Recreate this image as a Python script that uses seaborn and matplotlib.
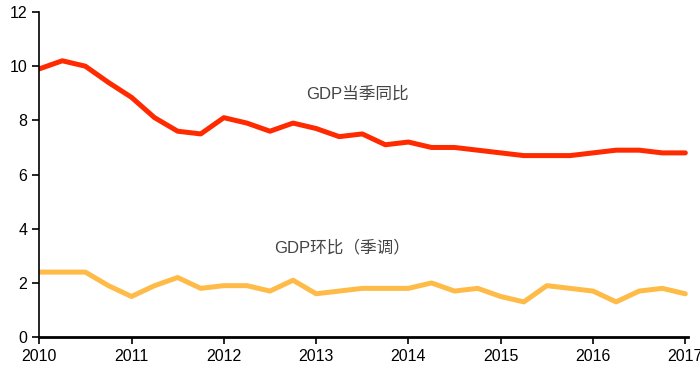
import numpy as np
import pandas as pd
import seaborn as sns
import matplotlib.pyplot as plt

# quarterly data, 2010Q1 .. 2017Q1
gdp_yoy = [9.9, 10.2, 10.0, 9.4, 8.85, 8.1, 7.6, 7.5,
           8.1, 7.9, 7.6, 7.9, 7.7, 7.4, 7.5, 7.1,
           7.2, 7.0, 7.0, 6.9, 6.8, 6.7, 6.7, 6.7,
           6.8, 6.9, 6.9, 6.8, 6.8]
gdp_qoq = [2.4, 2.4, 2.4, 1.9, 1.5, 1.9, 2.2, 1.8,
           1.9, 1.9, 1.7, 2.1, 1.6, 1.7, 1.8, 1.8,
           1.8, 2.0, 1.7, 1.8, 1.5, 1.3, 1.9, 1.8,
           1.7, 1.3, 1.7, 1.8, 1.6]
years = [2010, 2011, 2012, 2013, 2014, 2015, 2016, 2017]
yticks = [0, 2, 4, 6, 8, 10, 12]

quarter_pos = years[0] + np.arange(len(gdp_yoy)) / 4
df = pd.DataFrame({'t': quarter_pos, 'yoy': gdp_yoy, 'qoq': gdp_qoq})

sns.set_theme(style='ticks')
plt.rcParams['font.family'] = ['Liberation Sans', 'Noto Sans CJK SC', 'DejaVu Sans']

fig = plt.figure(figsize=(7, 3.75), dpi=100)
ax = fig.add_axes([0.056, 0.101, 0.927, 0.867])

sns.lineplot(data=df, x='t', y='yoy', ax=ax, color='#ff2a00', linewidth=3.6)
sns.lineplot(data=df, x='t', y='qoq', ax=ax, color='#ffbb48', linewidth=3.6)

ax.set_xlim(2010, 2017.03)
ax.set_ylim(0, 12)
ax.set_xticks(years)
ax.set_xticklabels([str(y) for y in years])
ax.set_yticks(yticks)
ax.set_xlabel('')
ax.set_ylabel('')
ax.tick_params(axis='both', labelsize=11.5, length=5, width=1.2, color='black', labelcolor='black')
sns.despine(ax=ax)
for s in ['left', 'bottom']:
    ax.spines[s].set_color('black')
    ax.spines[s].set_linewidth(1.2)
ax.spines['bottom'].set_linewidth(2)

ax.text(2013.45, 8.98, 'GDP当季同比', fontsize=12, color='#444444', ha='center', va='center')
ax.text(2013.28, 3.3, 'GDP环比（季调）', fontsize=12, color='#444444', ha='center', va='center')

fig.savefig('out.png', dpi=100)
